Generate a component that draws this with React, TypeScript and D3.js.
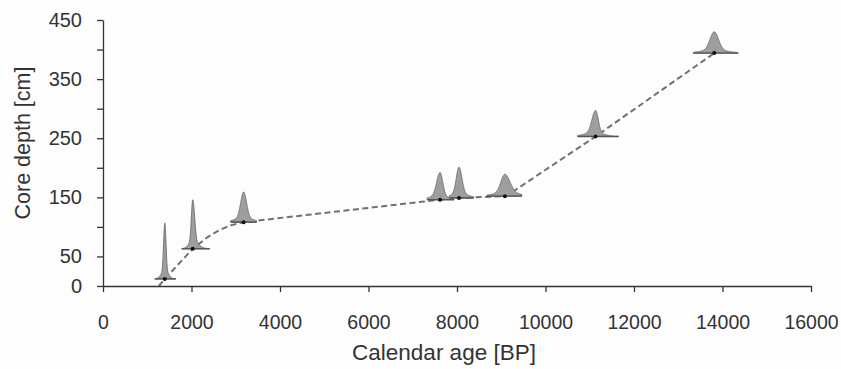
import React, { useEffect, useRef } from 'react';
import * as d3 from 'd3';

// dated samples: calendar age [BP] and core depth [cm]
const sampleAges = [1397, 2028, 3178, 7617, 8045, 9082, 11132, 13814];
const sampleDepths = [12, 63, 108, 146, 149, 152, 253, 394];
// probability peak height (in cm of the depth axis) and spread of each calibrated date
const peakHeights = [95, 83, 51, 46, 52, 37, 44, 36];
const sigmaLeft = [26, 30, 65, 75, 60, 90, 80, 95];
const sigmaRight = [26, 42, 65, 60, 65, 115, 60, 95];
// extent of the horizontal bar under each distribution
const rangeLo = [1172, 1780, 2885, 7324, 7830, 8676, 10727, 13341];
const rangeHi = [1645, 2411, 3470, 7932, 8380, 9465, 11651, 14355];

// age-depth model (dashed)
const modelAges = [1262, 1397, 2028, 2350, 2640, 2900, 3178, 7617, 8045, 9082, 9350, 11132, 13814];
const modelDepths = [0, 12, 63, 82, 95, 103, 108, 146, 149, 152, 164, 253, 394];

const xTicks = [0, 2000, 4000, 6000, 8000, 10000, 12000, 14000, 16000];
const yTicks = [0, 50, 100, 150, 200, 250, 300, 350, 400, 450];
const yTickLabels = [0, 50, 150, 250, 350, 450];

const W = 841;
const H = 369;
const FONT = '"Liberation Sans", Arial, sans-serif';

const App = () => {
  const svgRef = useRef<SVGSVGElement>(null);

  useEffect(() => {
    const svg = d3.select(svgRef.current);
    svg.selectAll('*').remove();

    const x = d3.scaleLinear().domain([0, 16000]).range([103, 811]);
    const y = d3.scaleLinear().domain([0, 450]).range([286, 20]);

    svg.append('rect').attr('width', W).attr('height', H).attr('fill', '#fdfdfd');

    // model line
    const line = d3.line<number>()
      .x((d, i) => x(modelAges[i]))
      .y((d, i) => y(modelDepths[i]));
    svg.append('path')
      .attr('d', line(modelAges))
      .attr('fill', 'none')
      .attr('stroke', '#707070')
      .attr('stroke-width', 2)
      .attr('stroke-linejoin', 'round')
      .attr('stroke-dasharray', '6,3.5');

    // distributions
    sampleAges.forEach((age, i) => {
      const depth = sampleDepths[i];
      const pts = d3.range(rangeLo[i], rangeHi[i] + 1, 4);
      const pdf = (a: number) => {
        const s = a < age ? sigmaLeft[i] : sigmaRight[i];
        const dx = a - age;
        return 0.85 * Math.exp(-(dx * dx) / (2 * s * s)) + 0.15 * Math.exp(-(dx * dx) / (2 * 9 * s * s));
      };
      const area = d3.area<number>()
        .x(a => x(a))
        .y0(y(depth))
        .y1(a => y(depth + peakHeights[i] * pdf(a)))
        .curve(d3.curveBasis);
      svg.append('path')
        .attr('d', area(pts))
        .attr('fill', '#9e9e9e')
        .attr('stroke', '#6c6c6c')
        .attr('stroke-width', 0.9);
      svg.append('line')
        .attr('x1', x(rangeLo[i]))
        .attr('x2', x(rangeHi[i]))
        .attr('y1', y(depth))
        .attr('y2', y(depth))
        .attr('stroke', '#555')
        .attr('stroke-width', 1.4);
      svg.append('circle')
        .attr('cx', x(age))
        .attr('cy', y(depth))
        .attr('r', 2)
        .attr('fill', '#111');
    });

    // axes
    const xAxis = svg.append('g')
      .attr('transform', `translate(0,${y(0)})`)
      .call(d3.axisBottom(x).tickValues(xTicks).tickSize(6).tickSizeOuter(0).tickPadding(30)
        .tickFormat(d3.format('d')));
    const yAxis = svg.append('g')
      .attr('transform', `translate(${x(0)},0)`)
      .call(d3.axisLeft(y).tickValues(yTicks).tickSize(6).tickSizeOuter(0).tickPadding(15)
        .tickFormat(d => (yTickLabels.includes(+d) ? String(d) : '')));

    [xAxis, yAxis].forEach(g => {
      g.select('.domain').attr('stroke', '#333').attr('stroke-width', 1.3);
      g.selectAll('.tick line').attr('stroke', '#333').attr('stroke-width', 1.3);
      g.selectAll('.tick text')
        .attr('fill', '#333')
        .style('font-family', FONT)
        .style('font-size', '20px');
    });
    xAxis.selectAll('.tick text').attr('dy', '0.35em').style('font-size', '19.5px');

    svg.append('text')
      .attr('x', 444)
      .attr('y', 360)
      .attr('text-anchor', 'middle')
      .attr('fill', '#333')
      .style('font-family', FONT)
      .style('font-size', '22.5px')
      .text('Calendar age [BP]');

    svg.append('text')
      .attr('transform', `translate(30,143) rotate(-90)`)
      .attr('text-anchor', 'middle')
      .attr('fill', '#333')
      .style('font-family', FONT)
      .style('font-size', '21.5px')
      .text('Core depth [cm]');
  }, []);

  return (
    <div style={{ position: 'absolute', left: 0, top: 0 }}>
      <svg ref={svgRef} width={W} height={H} style={{ display: 'block' }}></svg>
    </div>
  );
};

export default App;
